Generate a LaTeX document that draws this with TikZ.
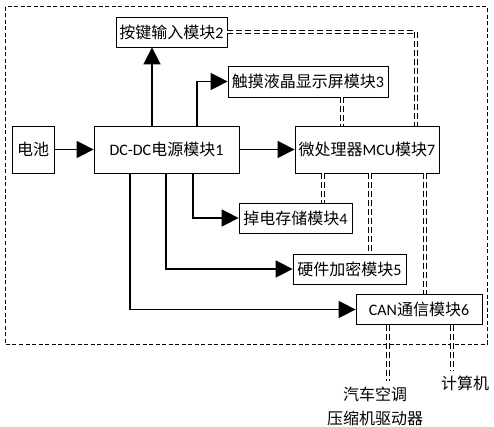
\documentclass[tikz,border=0pt]{standalone}
\usepackage{fontspec}
\setmainfont{Noto Sans CJK SC}
\newfontfamily\lat{Carlito}
\usetikzlibrary{arrows.meta}
\tikzset{
  box/.style={draw, line width=0.8pt, inner sep=0pt, font=\fontsize{16}{18}\selectfont},
  arr/.style={line width=1.6pt, -{Triangle[length=17pt,width=17pt]}},
  dbl/.style={draw=black, double=white, double distance=2pt, line width=1pt, dash pattern=on 6pt off 3pt},
  outer/.style={line width=1pt, dash pattern=on 4pt off 2.5pt},
  lbl/.style={inner sep=0pt, font=\fontsize{16}{18}\selectfont}
}
\begin{document}
\begin{tikzpicture}[x=1pt,y=-1pt]
\useasboundingbox[fill=white] (0,0) rectangle (494,427);
\draw[outer] (5,7) rectangle (487,344);
% boxes
\node[box, minimum width=42pt, minimum height=47pt] (bat) at (33,149.5) {电池};
\node[box, minimum width=145pt, minimum height=47pt] (dc) at (166.5,149.5) {{\lat DC-DC}电源模块{\lat 1}};
\node[box, minimum width=144pt, minimum height=47pt] (mcu) at (367,149.5) {微处理器{\lat MCU}模块{\lat 7}};
\node[box, minimum width=111pt, minimum height=30pt] (key) at (171.5,32) {按键输入模块{\lat 2}};
\node[box, minimum width=160pt, minimum height=31pt] (touch) at (308,81.5) {触摸液晶显示屏模块{\lat 3}};
\node[box, minimum width=113pt, minimum height=30pt] (pd) at (295.5,218) {掉电存储模块{\lat 4}};
\node[box, minimum width=113pt, minimum height=30pt] (hw) at (349.5,269) {硬件加密模块{\lat 5}};
\node[box, minimum width=126pt, minimum height=30pt] (can) at (419,309.5) {{\lat CAN}通信模块{\lat 6}};
% labels
\node[lbl] (car1) at (375,394) {汽车空调};
\node[lbl] (car2) at (375,418) {压缩机驱动器};
\node[lbl] (pc) at (465,383) {计算机};
% helper x positions
\coordinate (x1) at (152,0);
\coordinate (x2) at (197,0);
\coordinate (x3) at (193,0);
\coordinate (x4) at (166,0);
\coordinate (x5) at (130,0);
\coordinate (x6) at (416,0);
\coordinate (x7) at (342,0);
\coordinate (x8) at (323,0);
\coordinate (x9) at (370,0);
\coordinate (x10) at (425,0);
\coordinate (e1) at (388,381);
\coordinate (e2) at (452,371);
% power arrows
\draw[arr] (bat) -- (dc);
\draw[arr] (dc) -- (mcu);
\draw[arr] (dc.north -| x1) -- (key.south -| x1);
\draw[arr] (dc.north -| x2) |- (touch.west);
\draw[arr] (dc.south -| x3) |- (pd.west);
\draw[arr] (dc.south -| x4) |- (hw.west);
\draw[arr] (dc.south -| x5) |- (can.west);
% data links
\draw[dbl] (key.east) -| (mcu.north -| x6);
\draw[dbl] (touch.south -| x7) -- (mcu.north -| x7);
\draw[dbl] (mcu.south -| x8) -- (pd.north -| x8);
\draw[dbl] (mcu.south -| x9) -- (hw.north -| x9);
\draw[dbl] (mcu.south -| x10) -- (can.north -| x10);
\draw[dbl] (can.south -| e1) -- (e1);
\draw[dbl] (can.south -| e2) -- (e2);
\end{tikzpicture}
\end{document}
